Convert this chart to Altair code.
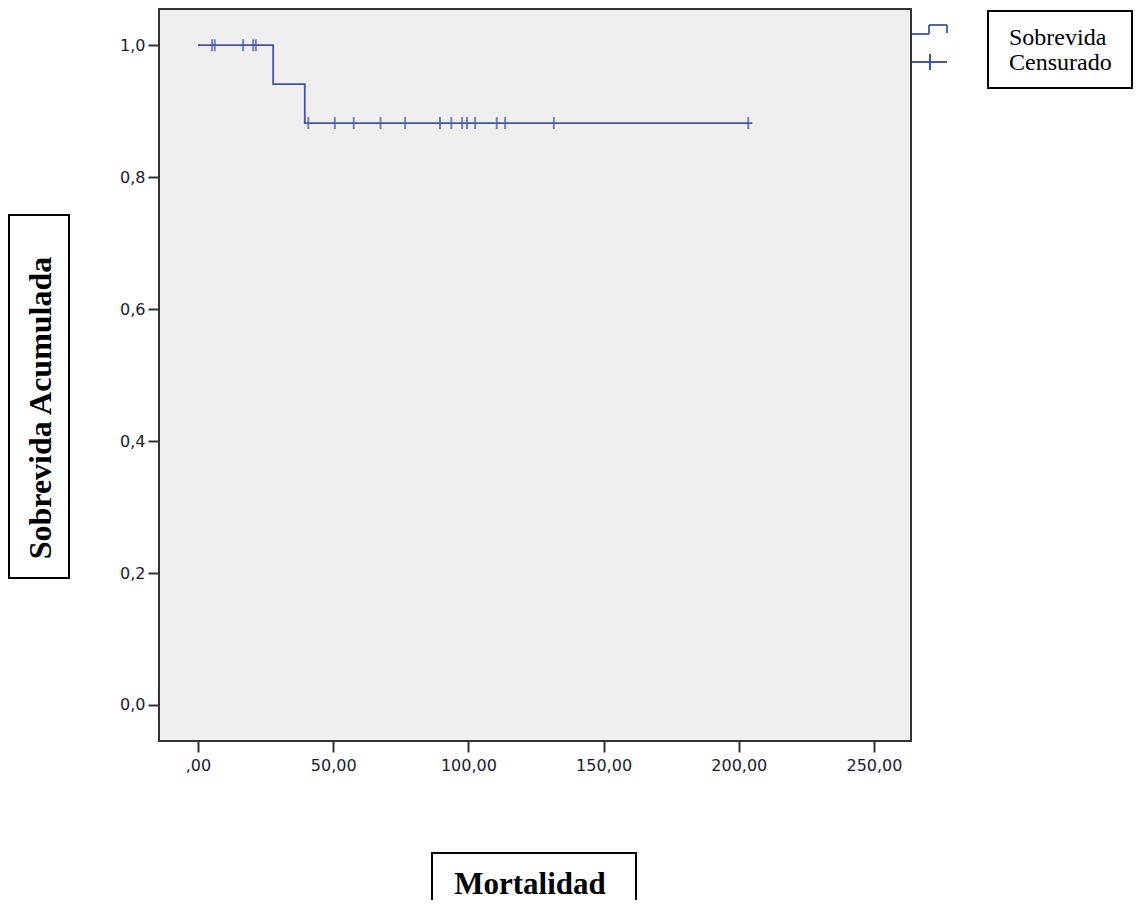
import altair as alt
import pandas as pd

# Kaplan-Meier step curve (time, cumulative survival)
step_times = [0.0, 27.8, 39.5, 205.0]
step_surv = [1.0, 0.941, 0.882, 0.882]
# censored observations (time)
censor_times = [5.2, 6.2, 16.7, 20.4, 21.4, 40.8, 50.6, 57.6, 67.5, 76.6,
                89.5, 93.7, 97.7, 99.5, 102.5, 110.5, 113.6, 131.6, 203.5]
x_ticks = [0, 50, 100, 150, 200, 250]
y_ticks = [0.0, 0.2, 0.4, 0.6, 0.8, 1.0]

y_title = "Sobrevida Acumulada"
x_title = "Mortalidad"
legend_labels = ["Sobrevida", "Censurado"]

BLUE = "#4254ad"


def surv_at(t):
    s = step_surv[0]
    for tt, ss in zip(step_times, step_surv):
        if tt <= t:
            s = ss
    return s


curve_df = pd.DataFrame({"t": step_times, "s": step_surv})
cens_df = pd.DataFrame({"t": censor_times, "s": [surv_at(t) for t in censor_times]})

xscale = alt.Scale(domain=[-14.42, 263.7], nice=False, zero=False)
yscale = alt.Scale(domain=[-0.0546, 1.0549], nice=False, zero=False)

axis_common = dict(
    title=None, grid=False, domain=False, tickColor="#333333", tickWidth=2,
    tickSize=11, labelFont="DejaVu Sans", labelFontSize=16, labelColor="#1b1b2f",
)

xaxis = alt.Axis(values=x_ticks, labelPadding=5,
                 labelExpr="datum.value == 0 ? ',00' : replace(format(datum.value, '.2f'), '.', ',')",
                 **axis_common)
yaxis = alt.Axis(values=y_ticks, labelPadding=3,
                 labelExpr="replace(format(datum.value, '.1f'), '.', ',')",
                 **axis_common)

curve = alt.Chart(curve_df).mark_line(interpolate="step-after", color=BLUE, strokeWidth=1.8).encode(
    x=alt.X("t:Q", scale=xscale, axis=xaxis),
    y=alt.Y("s:Q", scale=yscale, axis=yaxis),
)

ticks = alt.Chart(cens_df).mark_tick(orient="vertical", color=BLUE, size=12, thickness=2).encode(
    x=alt.X("t:Q", scale=xscale),
    y=alt.Y("s:Q", scale=yscale),
)

one = alt.Data(values=[{}])


def box(x1, x2, y1, y2):
    return alt.Chart(one).mark_rect(fillOpacity=0, stroke="black", strokeWidth=2).encode(
        x=alt.value(x1), x2=alt.value(x2), y=alt.value(y1), y2=alt.value(y2))


def seg(x1, x2, y1, y2, w=1.8):
    return alt.Chart(one).mark_rule(color=BLUE, strokeWidth=w).encode(
        x=alt.value(x1), x2=alt.value(x2), y=alt.value(y1), y2=alt.value(y2))


ytitle_box = box(-150, -90, 206, 569)
ytitle = alt.Chart(one).mark_text(font="Liberation Serif", fontWeight="bold", fontSize=32,
                                   angle=270, align="center", baseline="alphabetic",
                                   color="black").encode(
    x=alt.value(-108), y=alt.value(399), text=alt.value(y_title))

xtitle_box = box(273, 477, 844, 920)
xtitle = alt.Chart(one).mark_text(font="Liberation Serif", fontWeight="bold", fontSize=31,
                                   align="center", baseline="alphabetic", color="black").encode(
    x=alt.value(371), y=alt.value(885), text=alt.value(x_title))

leg_box = box(829, 973, 2, 79)
leg_t1 = alt.Chart(one).mark_text(font="Liberation Serif", fontSize=24, align="left",
                                  baseline="alphabetic", color="black").encode(
    x=alt.value(850), y=alt.value(36), text=alt.value(legend_labels[0]))
leg_t2 = alt.Chart(one).mark_text(font="Liberation Serif", fontSize=24, align="left",
                                  baseline="alphabetic", color="black").encode(
    x=alt.value(850), y=alt.value(61), text=alt.value(legend_labels[1]))

# legend symbols
sym = [
    seg(753, 770, 25, 25), seg(770, 770, 16, 25), seg(770, 788, 16, 16), seg(788, 788, 16, 24),
    seg(753, 788, 53, 53), seg(771, 771, 45, 61, 2),
]

chart = alt.layer(
    curve, ticks, ytitle_box, ytitle, xtitle_box, xtitle, leg_box, leg_t1, leg_t2, *sym
).properties(
    width=752, height=732,
    autosize=alt.AutoSizeParams(type="none"),
    padding={"left": 151, "top": 1, "right": 223, "bottom": 159},
).configure_view(
    fill="#efefef", stroke="#333333", strokeWidth=2
)

chart.save("out.html", embed_options={"renderer": "svg", "actions": False})
